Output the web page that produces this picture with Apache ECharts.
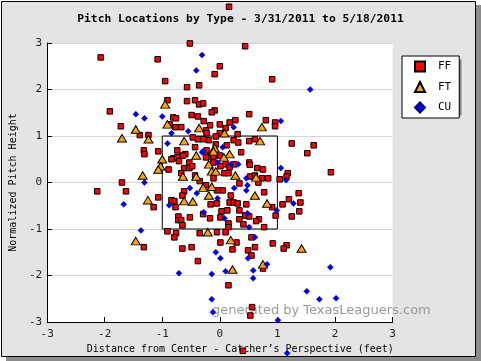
<!DOCTYPE html>
<html><head><meta charset="utf-8">
<script src="https://cdn.jsdelivr.net/npm/echarts@6/dist/echarts.min.js"></script>
<style>html,body{margin:0;padding:0;background:#fff;}#c{width:481px;height:361px;}</style>
</head><body><div id="c"></div>
<script>
var titleText = 'Pitch Locations by Type - 3/31/2011 to 5/18/2011';
var xName = 'Distance from Center - Catcher\u2019s Perspective (feet)';
var yName = 'Normalized Pitch Height';
var seriesNames = ['FF', 'FT', 'CU'];
var zoneX = [-1, 1, 1, -1, -1];
var zoneY = [-1, -1, 1, 1, -1];

var ffX = [-0.52,-2.07,-1.08,-0.95,-0.57,-0.91,-0.57,-1.91,-0.49,-0.81,-0.76,-1.72,-0.87,-0.77,-0.67,-1.39,-1.24,-0.74,-1.07,-1.32,-1.31,-0.60,-0.64,-0.81,-0.84,-0.74,-0.71,-0.53,-0.89,-0.62,-0.53,-0.48,-0.67,
0.44,0.00,-0.09,-0.36,0.91,-0.43,-0.36,-0.29,-0.09,-0.14,0.51,
-0.38,-0.28,0.17,0.27,0.80,0.96,0.96,-0.17,0.00,-0.24,0.10,-0.23,0.00,-0.07,0.31,-0.47,-0.38,-0.29,-0.19,0.24,0.32,0.51,0.61,1.25,-0.07,0.12,-0.43,-0.23,0.37,-0.17,-0.11,-0.24,0.00,0.10,0.25,0.51,0.52,-0.11,0.01,0.17,0.65,0.75,1.18,1.16,0.08,0.15,0.53,0.61,0.84,0.73,1.04,-0.43,-0.11,
1.63,1.52,1.93,
-1.70,-2.13,-1.63,-0.62,-0.65,-1.07,-0.84,-0.79,-1.15,-0.77,-0.72,-0.52,-0.72,-0.67,-0.65,-0.91,-0.76,-0.79,-1.32,-0.65,-0.49,
-0.35,0.34,0.67,-0.24,-0.05,0.05,0.19,-0.05,-0.16,0.17,0.24,0.31,0.46,0.77,1.37,1.20,1.09,0.91,1.38,1.25,0.97,-0.29,-0.17,0.03,0.13,0.34,0.01,0.34,0.44,0.51,0.68,0.63,0.15,0.41,0.15,0.77,-0.35,-0.05,0.10,0.55,0.01,0.29,0.92,1.16,1.11,0.61,0.22,0.49,0.55,-0.38,0.75,0.15,0.56,0.53,1.40,0.16,0.40];
var ffY = [2.99,2.69,2.65,2.18,2.05,1.77,1.75,1.53,1.45,1.40,1.38,1.21,1.25,1.19,1.19,1.02,1.02,0.69,0.67,0.69,0.61,0.61,0.58,0.52,0.50,0.54,0.46,0.43,0.28,0.31,0.31,0.35,0.20,
2.93,2.50,2.33,2.09,2.22,1.77,1.68,1.70,1.55,1.51,1.47,
1.42,1.32,1.29,1.34,1.34,1.29,1.21,1.23,1.25,1.12,1.17,1.06,1.06,0.99,1.04,0.97,0.93,0.93,0.91,0.91,0.86,0.89,0.93,0.84,0.82,0.80,0.76,0.69,0.65,0.56,0.56,0.54,0.58,0.39,0.39,0.43,0.38,0.43,0.35,0.33,0.31,0.28,0.20,0.13,0.20,0.20,0.13,0.15,0.09,0.09,0.07,0.15,0.09,
0.80,0.63,0.22,
0.00,-0.19,-0.19,-0.19,-0.28,-0.32,-0.38,-0.40,-0.53,-0.53,-0.73,-0.75,-0.81,-0.81,-0.92,-1.05,-1.09,-1.18,-1.39,-1.42,-1.39,
0.03,-0.02,0.00,-0.06,-0.17,-0.17,-0.28,-0.45,-0.47,-0.43,-0.43,-0.45,-0.47,-0.21,-0.23,-0.36,-0.47,-0.53,-0.62,-0.73,-0.71,-0.68,-0.77,-0.62,-0.60,-0.60,-0.75,-0.79,-0.71,-0.73,-0.79,-0.83,-0.88,-0.90,-0.96,-0.96,-1.09,-1.07,-1.07,-1.18,-1.29,-1.29,-1.31,-1.35,-1.42,-1.39,-1.44,-1.46,-1.57,-1.69,-1.85,-2.21,-2.68,-2.86,-0.43,3.78,-3.62];

var ftX = [-0.95,-1.46,-0.91,-1.70,-1.24,-0.62,-1.00,-1.03,-1.07,-1.34,-0.64,-0.36,0.73,0.08,0.70,-0.09,-0.11,0.17,-0.41,0.07,-0.19,-0.14,-0.07,0.27,-0.41,0.63,-1.25,-0.62,-1.46,-0.21,0.19,0.75,0.22,1.42,-0.29,-0.14,-0.19,-0.47,0.61,0.82];
var ftY = [1.68,1.14,1.25,0.95,0.93,0.89,0.50,0.35,0.28,0.15,0.13,1.17,1.19,1.06,0.89,0.74,0.67,0.61,0.58,0.54,0.39,0.24,0.24,0.15,0.13,0.11,-0.38,-0.40,-1.26,-1.07,-1.24,-1.76,-1.87,-1.42,-0.11,-0.09,-0.28,-0.41,-0.28,-0.45];

var cuX = [-1.46,-1.31,-1.00,-0.55,-0.84,-0.91,-0.31,-0.41,1.06,0.24,0.05,-0.31,-0.29,-0.04,0.19,0.32,1.06,0.46,1.57,-1.31,-0.52,-1.67,-0.88,-1.37,-0.71,0.51,0.61,-0.07,0.01,0.49,0.82,0.10,0.58,0.58,-0.14,-0.14,-0.12,1.01,1.15,1.28,1.92,1.51,1.73,2.02,1.17,-0.40,0.25,0.48,0.46,-0.04,-0.28,0.08,0.48,0.99];
var cuY = [1.47,1.38,1.42,1.10,1.06,0.84,2.74,2.41,1.32,1.19,0.76,0.65,0.67,0.43,0.39,0.39,0.31,0.09,2.00,0.00,-0.12,-0.47,-0.49,-1.03,-1.95,-0.96,-1.18,-1.50,-1.63,-1.63,-1.76,-1.91,-1.89,-2.06,-1.97,-2.51,-2.79,-2.96,0.05,-0.45,-1.82,-2.34,-2.51,-2.49,-3.67,-0.23,-0.12,-0.06,-0.17,-0.34,-0.64,-0.77,-0.66,-0.60];

function pairs(xs, ys) { return xs.map(function (v, i) { return [v, ys[i]]; }); }

var mono = 'DejaVu Sans Mono';
var chart = echarts.init(document.getElementById('c'), null, {renderer: 'canvas'});
chart.setOption({
  animation: false,
  backgroundColor: 'transparent',
  graphic: [
    {type: 'rect', z: -20, shape: {x: 6, y: 5, width: 475, height: 356}, style: {fill: '#8c8c8c'}},
    {type: 'rect', z: -19, shape: {x: 1.5, y: 1.5, width: 474, height: 355}, style: {fill: '#e4e4e4', stroke: '#000', lineWidth: 1}},
    {type: 'rect', z: 3, shape: {x: 405.5, y: 59.5, width: 56, height: 56}, style: {fill: '#808080'}},
    {type: 'text', z: 1, left: 212, top: 304, style: {text: 'generated by TexasLeaguers.com', font: '13px "DejaVu Sans"', fill: '#9a9a9a'}}
  ],
  title: {
    text: titleText, left: 'center', top: 9,
    textStyle: {fontFamily: mono, fontSize: 11.3, fontWeight: 'bold', color: '#000'}
  },
  legend: {
    data: seriesNames, orient: 'vertical', left: 402, top: 56,
    width: 55,
    padding: [4.5, 8, 4.5, 12],
    itemWidth: 10, itemHeight: 10, itemGap: 8.5,
    backgroundColor: '#fff', borderColor: '#000', borderWidth: 1,
    textStyle: {fontFamily: mono, fontSize: 11, color: '#000', padding: [0, 0, 0, 8]},
    z: 5
  },
  grid: {left: 42.5, right: 88.5, top: 43, bottom: 39, show: true, backgroundColor: '#fff', borderWidth: 0},
  xAxis: {
    type: 'value', min: -3, max: 3, interval: 1,
    name: xName, nameLocation: 'middle', nameGap: 21,
    nameTextStyle: {fontFamily: mono, fontSize: 10, color: '#000', padding: [0, 0, 0, 41]},
    axisLine: {show: true, onZero: false, lineStyle: {color: '#000', width: 1}},
    axisTick: {show: true, inside: true, length: 5, lineStyle: {color: '#000'}},
    axisLabel: {fontFamily: mono, fontSize: 11, color: '#222', margin: 7},
    splitLine: {show: false}
  },
  yAxis: {
    type: 'value', min: -3, max: 3, interval: 1,
    name: yName, nameLocation: 'middle', nameGap: 26, nameRotate: 90,
    nameTextStyle: {fontFamily: mono, fontSize: 10, color: '#000'},
    axisLine: {show: true, onZero: false, lineStyle: {color: '#000', width: 1}},
    axisTick: {show: true, inside: true, length: 5, lineStyle: {color: '#000'}},
    axisLabel: {fontFamily: mono, fontSize: 11, color: '#222', margin: 5},
    splitLine: {show: true, lineStyle: {color: '#d4d4d4', width: 1}}
  },
  series: [
    {type: 'line', name: 'zone', data: pairs(zoneX, zoneY), symbol: 'none', silent: true, z: 1,
     lineStyle: {color: '#000', width: 1}},
    {type: 'scatter', name: 'FF', data: pairs(ffX, ffY), symbol: 'rect', symbolSize: 5.5, clip: false, z: 2,
     itemStyle: {color: '#ff0000', borderColor: '#000', borderWidth: 1, opacity: 1}},
    {type: 'scatter', name: 'FT', data: pairs(ftX, ftY), symbol: 'triangle', symbolSize: [9, 7.5], clip: false, z: 2,
     itemStyle: {color: '#ffa500', borderColor: '#000', borderWidth: 1, opacity: 1}},
    {type: 'scatter', name: 'CU', data: pairs(cuX, cuY), symbol: 'diamond', symbolSize: 6, clip: false, z: 2,
     itemStyle: {color: '#0000ee', borderColor: '#000080', borderWidth: 0.5, opacity: 1}}
  ]
});
</script></body></html>
